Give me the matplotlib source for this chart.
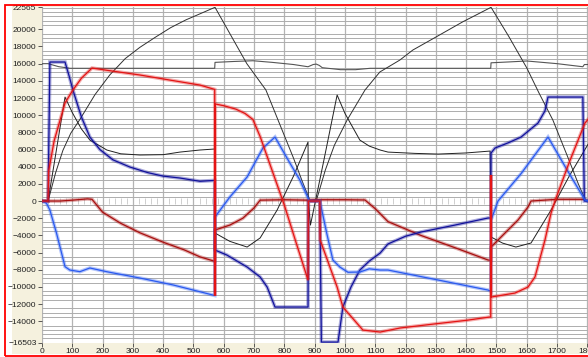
#Recreate drive trace chart
import numpy as np
import matplotlib.pyplot as plt
from matplotlib.patches import Rectangle

#Position arc (thin black)
arc_x = [0, 20, 45, 69, 95, 125, 175, 224, 275, 323, 375, 425, 475, 521, 571, 620, 676, 739, 779, 830, 860, 885,
         905, 935, 965, 1007, 1066, 1115, 1181, 1224, 1290, 1340, 1390, 1440, 1482, 1540, 1600, 1640, 1686, 1740, 1770, 1795, 1802]
arc_y = [0, 0, 3300, 5900, 7900, 9500, 12400, 14700, 16600, 17900, 19100, 20200, 21100, 21800, 22565, 19500, 16000, 12930, 9435, 5000, 2200, 0,
         0, 3600, 6500, 9435, 12930, 15030, 16420, 17590, 18900, 19900, 20900, 21800, 22565, 19200, 15500, 12600, 9435, 4700, 2000, 0, 0]

#Upper flat trace (~15460)
flat_x = [0, 20, 55, 93, 570, 571, 630, 696, 760, 830, 878, 895, 905, 915, 925, 960, 985, 1035, 1083,
          1481, 1482, 1540, 1600, 1700, 1785, 1790, 1802]
flat_y = [16000, 16000, 15650, 15460, 15460, 16150, 16250, 16340, 16150, 15900, 15640, 15900, 15950, 15800, 15530, 15400, 15300, 15300, 15460,
          15460, 16100, 16200, 16310, 16000, 15640, 15900, 15900]

#Decaying black trace
c_x = [0, 20, 76, 100, 130, 158, 214, 260, 323, 400, 455, 521, 570, 571, 620, 677, 720, 776, 830, 878, 879, 886,
       930, 974, 1000, 1049, 1080, 1116, 1142, 1230, 1307, 1400, 1479, 1482, 1520, 1564, 1614, 1680, 1740, 1802]
c_y = [0, 0, 12110, 10300, 8400, 7100, 5940, 5500, 5360, 5400, 5700, 5940, 6060, -3730, -4700, -5360, -4300, -1050, 2900, 6870, 0, -2800,
       4700, 12350, 10200, 7100, 6400, 5940, 5700, 5550, 5470, 5600, 5820, -4190, -4900, -5360, -4890, -1050, 2900, 6600]

#Navy trace
navy_x = [0, 20, 26, 76, 90, 102, 130, 158, 191, 234, 290, 350, 400, 455, 521, 570, 571, 610, 677, 720, 743, 769, 878, 879,
          917, 922, 977, 993, 1020, 1049, 1080, 1116, 1142, 1200, 1251, 1363, 1472, 1481, 1482, 1495, 1540, 1581, 1637, 1660, 1670, 1785, 1790, 1802]
navy_y = [0, 0, 16190, 16190, 14500, 12930, 9800, 7450, 6000, 4800, 3960, 3300, 2900, 2680, 2300, 2400, -5710, -6290, -7690, -8850, -10020, -12350, -12350, 0,
          0, -16430, -16430, -12350, -10000, -8040, -7000, -6060, -5000, -4100, -3610, -2800, -1980, -1980, 5590, 6170, 6800, 7450, 9085, 10500, 12110, 12110, 0, 0]

#Bright blue trace
bb_x = [0, 15, 26, 48, 76, 92, 125, 158, 213, 323, 433, 564, 570, 571, 620, 677, 729, 769, 818, 851, 878, 882,
        917, 940, 960, 983, 1010, 1049, 1080, 1116, 1142, 1307, 1472, 1481, 1482, 1505, 1582, 1670, 1730, 1792, 1802]
bb_y = [0, -270, -1050, -3760, -7650, -8040, -8230, -7800, -8230, -8970, -9780, -10950, -11000, -1860, 470, 2800, 6170, 7450, 4430, 2450, 350, 0,
        0, -3800, -6870, -7690, -8300, -8270, -7900, -8040, -8040, -9200, -10370, -10500, -2210, 0, 3230, 7450, 3800, 120, 0]

#Bright red trace
br_x = [0, 20, 22, 40, 76, 102, 130, 165, 220, 323, 420, 521, 570, 571, 572, 600, 640, 670, 696, 720, 760, 800, 840, 878, 879,
        917, 918, 974, 993, 1059, 1116, 1182, 1300, 1400, 1478, 1481, 1482, 1483, 1530, 1561, 1604, 1627, 1660, 1680, 1693, 1740, 1792, 1802]
br_y = [0, 0, 3500, 7000, 11420, 12930, 14300, 15490, 15200, 14680, 14100, 13510, 13000, -11000, 11300, 11100, 10700, 10200, 9500, 7500, 3500, -500, -5000, -9200, 0,
        0, -4540, -10020, -12350, -15030, -15260, -14790, -14300, -13900, -13510, -13510, 3000, -11180, -10900, -10720, -10020, -8850, -4540, -1400, 0, 4500, 9085, 9500]

#Dark red trace
dr_x = [0, 20, 60, 100, 150, 165, 200, 260, 323, 400, 470, 521, 568, 570, 571, 620, 663, 700, 720, 800, 878, 900, 1000, 1066,
        1100, 1142, 1250, 1360, 1472, 1481, 1482, 1515, 1571, 1604, 1614, 1700, 1790, 1802]
dr_y = [0, 0, 0, 100, 250, 200, -1300, -2600, -3700, -4800, -5700, -6500, -7000, -7000, -3380, -2800, -2000, -800, 100, 150, 100, 150, 150, 120,
        -900, -2400, -4000, -5400, -6870, -6900, -5360, -4190, -2210, -700, 0, 200, 200, 0]

ytick_vals = [22565, 20000, 18000, 16000, 14000, 12000, 10000, 8000, 6000, 4000, 2000, 0,
              -2000, -4000, -6000, -8000, -10000, -12000, -14000, -16503]
xtick_vals = list(range(0, 1900, 100))

plt.rcParams['font.family'] = ['Liberation Sans', 'DejaVu Sans']

fig = plt.figure(figsize=(5.88, 3.57), dpi=100)
W, H = 588.0, 357.0

#Beige label panel
fig.patches.append(Rectangle((12 / W, 1 - 354 / H), 1 - 12 / W, (354 - 6) / H, transform=fig.transFigure,
                             facecolor='#f5f1de', edgecolor='none', zorder=-5))

ax = fig.add_axes([42 / W, 14.3 / H, 1 - 42 / W, (342.7 - 7.3) / H])
ax.set_zorder(2)
ax.set_facecolor('white')
ax.set_xlim(0, 1802)
ax.set_ylim(-16503, 22565)

#Grid
ax.set_yticks(ytick_vals)
ax.set_yticks(np.arange(-16500, 22600, 500), minor=True)
ax.set_xticks(xtick_vals)
ax.grid(which='minor', axis='y', color='#adadad', linewidth=0.7)
ax.grid(which='major', axis='x', color='#b4b4b4', linewidth=0.9)
ax.tick_params(which='minor', length=0)
ax.tick_params(which='major', length=3, width=0.6, color='#404040', labelsize=6, pad=1, labelcolor='#202020')
for s in ax.spines.values():
    s.set_visible(False)

#Small marks along the zero line
zx = np.arange(0, 1802, 20)
ax.plot(zx, np.zeros(len(zx)), ls='none', marker='|', ms=4, mew=0.6, color='#c8c8c8', zorder=1)

#Smooth traces
ax.plot(flat_x, flat_y, color='#555555', linewidth=0.8, zorder=2)
ax.plot(arc_x, arc_y, color='#303030', linewidth=0.7, zorder=2)
ax.plot(c_x, c_y, color='#202020', linewidth=0.7, zorder=2)

#Noisy traces: soft band plus a thin core line
for xs, ys, col, z in [(dr_x, dr_y, '#a81010', 3), (navy_x, navy_y, '#12129c', 3),
                       (bb_x, bb_y, '#2a5af0', 3), (br_x, br_y, '#e41414', 4)]:
    ax.plot(xs, ys, color=col, linewidth=2.6, alpha=0.35, zorder=z, solid_joinstyle='miter')
    ax.plot(xs, ys, color=col, linewidth=0.9, zorder=z)

#Red frame drawn last, on top of everything
fig.add_artist(Rectangle((4.5 / W, 1 - 356 / H), 1.05, (356 - 5) / H, transform=fig.transFigure,
                         facecolor='none', edgecolor='#ff0000', linewidth=1.3, zorder=10))

plt.savefig('out.png', dpi=100)
